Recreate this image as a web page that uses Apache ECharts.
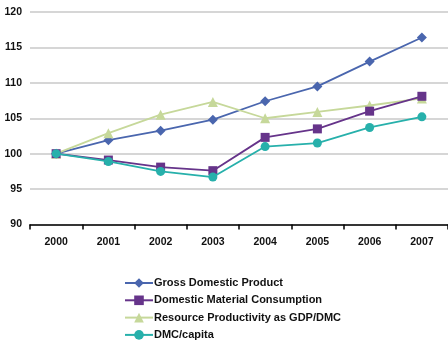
<!DOCTYPE html>
<html><head><meta charset="utf-8">
<script src="https://cdn.jsdelivr.net/npm/echarts@6/dist/echarts.min.js"></script>
<style>html,body{margin:0;padding:0;background:#fff}#c{width:448px;height:346px}</style>
</head><body><div id="c"></div>
<script>
var years = ['2000','2001','2002','2003','2004','2005','2006','2007'];
var gdp = [100, 101.9, 103.25, 104.8, 107.4, 109.5, 113.0, 116.4];
var dmc = [100, 99.1, 98.1, 97.6, 102.3, 103.5, 106.0, 108.1];
var rp = [100, 102.9, 105.5, 107.3, 105.0, 105.9, 106.8, 107.8];
var dmcCap = [100, 98.9, 97.5, 96.7, 101.0, 101.5, 103.7, 105.2];
var names = ['Gross Domestic Product','Domestic Material Consumption','Resource Productivity as GDP/DMC','DMC/capita'];
var colors = ['#4a66ae','#66348a','#c6d89a','#27b0ab'];
var symbols = ['diamond','rect','triangle','circle'];
var sizes = [10, 9, 10, 9];
var datas = [gdp, dmc, rp, dmcCap];
var chart = echarts.init(document.getElementById('c'), null, {renderer:'canvas'});
var font = 'Liberation Sans, Arial, sans-serif';
chart.setOption({
  animation:false,
  grid:{left:30, right:0, top:12, bottom:121.5},
  legend:{
    orient:'vertical', left:124, top:276.5, padding:0, height:70, itemWidth:28, itemHeight:12, itemGap:4.3,
    textStyle:{fontFamily:font, fontSize:11, lineHeight:13, color:'#111', fontWeight:'bold', padding:[0,0,0,-4]},
    data:names
  },
  xAxis:{
    type:'category', data:years, boundaryGap:true,
    axisLine:{lineStyle:{color:'#000', width:1.5}},
    axisTick:{show:true, length:5, inside:false, lineStyle:{color:'#000', width:1.5}},
    axisLabel:{fontFamily:font, fontSize:10.5, color:'#111', margin:12, fontWeight:'bold'}
  },
  yAxis:{
    type:'value', min:90, max:120, interval:5,
    axisLine:{show:false}, axisTick:{show:false},
    splitLine:{lineStyle:{color:'#c8c8c8', width:1.5}},
    axisLabel:{fontFamily:font, fontSize:10.5, color:'#111', margin:8, fontWeight:'bold'}
  },
  series: datas.map(function(d,i){
    return {
      name:names[i], type:'line', data:d, symbol:symbols[i], symbolSize:sizes[i],
      itemStyle:{color:colors[i]}, lineStyle:{color:colors[i], width:1.8}, z: (i===1?4:(i===3?5:3))
    };
  })
});
</script></body></html>
